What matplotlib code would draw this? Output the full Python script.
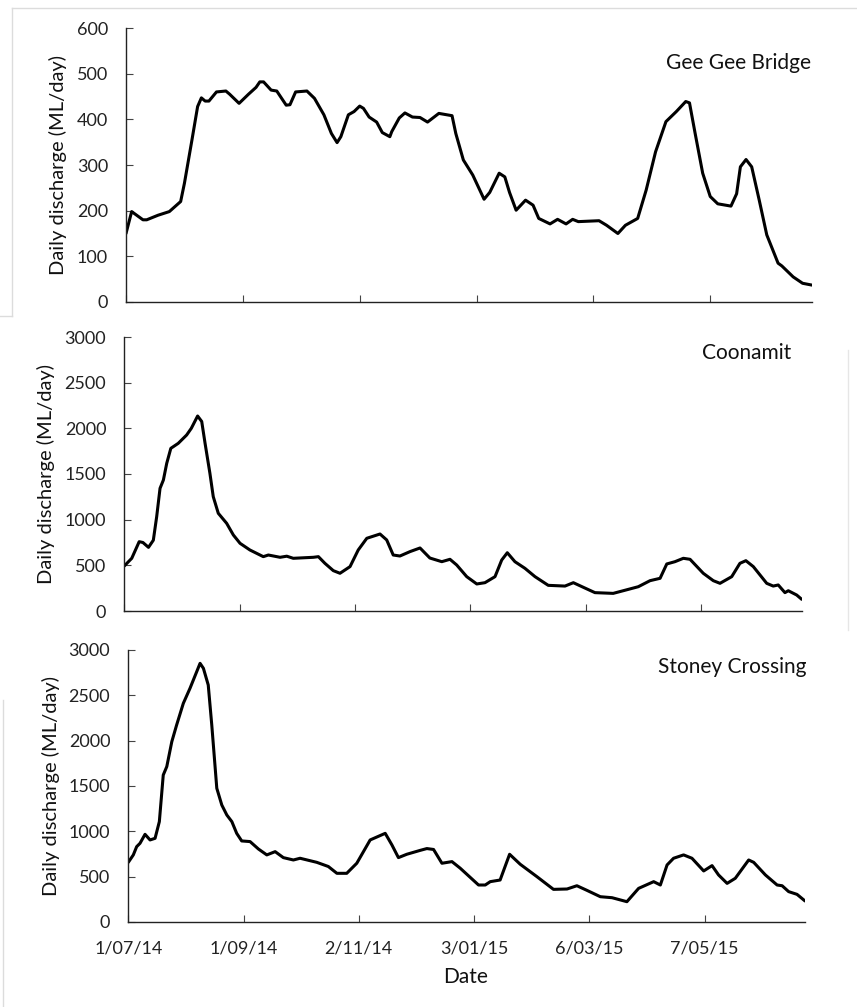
import numpy as np
import pandas as pd
import matplotlib
matplotlib.use("Agg")
import matplotlib.pyplot as plt
from matplotlib.lines import Line2D

plt.rcParams['font.family'] = ['Lato', 'DejaVu Sans']

start = pd.Timestamp("2014-07-01")
end = pd.Timestamp("2015-06-30")

# Gee Gee Bridge (day offset from 1/07/14, ML/day)
gee_days = [0, 3, 9, 11, 17, 23, 29, 31, 35, 38, 40, 42, 44, 48, 53, 55, 60, 65, 69, 71,
            73, 77, 80, 85, 87, 90, 96, 100, 105, 109, 112, 114, 118, 121, 124, 126, 129,
            133, 136, 140, 141, 145, 148, 152, 156, 160, 166, 173, 175, 179, 184, 190, 193,
            198, 201, 203.5, 207, 212, 216, 219, 225, 229, 233.5, 237, 240, 251, 255, 261,
            265, 271.5, 276, 281, 286.5, 292, 297, 299, 302, 306, 310, 314, 321, 324, 326,
            329, 332, 336, 340, 346, 348, 354, 359, 364]
gee_vals = [150, 198, 180, 180, 190, 198, 220, 260, 355, 428, 447, 440, 440, 460, 462, 455,
            435, 455, 470, 482, 482, 464, 462, 431, 432, 460, 462, 446, 410, 369, 349, 362,
            410, 417, 429, 424, 405, 394, 371, 362, 373, 403, 414, 405, 404, 394, 413, 408,
            369, 311, 278, 225, 240, 282, 274, 240, 201, 223, 212, 183, 171, 181, 171, 181,
            176, 178, 168, 150, 168, 183, 245, 329, 395, 417, 439, 436, 369, 282, 231, 215,
            210, 237, 296, 312, 296, 223, 147, 85, 79, 55, 41, 37]

# Coonamit
coo_days = [0, 4, 8, 10, 13, 15.6, 17.4, 19.2, 21, 22.8, 25, 29, 33.5, 36, 39.4, 41.6, 43.4,
            46, 47.8, 50.5, 55, 58.6, 62.2, 67.5, 74.7, 77.4, 83.7, 87.3, 90.8, 101.6, 104.3,
            107.8, 112.3, 115.9, 121.3, 125.7, 130.3, 137.4, 141, 144.5, 148.1, 153.5, 158.9,
            164.2, 170.6, 175, 178.6, 184, 189.4, 193.8, 199.2, 202.8, 205.8, 209.9, 215.3,
            220.7, 227.8, 236.8, 241.3, 246.7, 252.9, 262.7, 268.1, 276.2, 282.5, 287.9,
            291.5, 295.9, 300.4, 304, 311.1, 316.5, 320.1, 326.4, 330.8, 334, 338, 345.2,
            348.7, 351.4, 355, 356.8, 361.3, 364]
coo_vals = [493, 577, 759, 750, 697, 775, 1033, 1343, 1434, 1617, 1781, 1836, 1927, 2000,
            2135, 2075, 1836, 1508, 1252, 1070, 960, 832, 741, 668, 595, 613, 588, 600, 577,
            588, 595, 522, 442, 413, 486, 668, 796, 843, 778, 613, 602, 650, 690, 580, 540,
            566, 504, 376, 296, 310, 376, 558, 638, 540, 467, 376, 281, 273, 310, 259, 201,
            193, 222, 266, 332, 358, 515, 540, 577, 566, 413, 332, 303, 376, 522, 551, 486,
            303, 273, 285, 201, 222, 175, 128]

# Stoney Crossing
sto_days = [0, 2.7, 4.5, 6.3, 9, 11.7, 14.4, 16.7, 18.8, 20.7, 23.4, 26, 29.6, 33.2, 36.8,
            38.6, 40.4, 43, 44.9, 47.6, 50.3, 53, 55.7, 58.3, 61, 65.5, 70, 74.5, 79, 83.4,
            88.8, 92.4, 101.4, 107.6, 112.2, 117.5, 122.9, 130.1, 138.2, 141.8, 145.3, 149.8,
            157, 160.6, 164.2, 168.7, 174.1, 178.5, 188.4, 192, 194.7, 200, 205.1, 210.8,
            219.8, 228.7, 236, 241.3, 246.7, 253.9, 260.2, 268.2, 274.5, 282.6, 286.2, 289.8,
            293.3, 298.7, 303.2, 309.5, 314, 317.5, 322.1, 326.5, 333.7, 336.4, 342.7, 349,
            351.7, 355.2, 359.7, 364]
sto_vals = [658, 740, 831, 868, 967, 905, 923, 1107, 1621, 1714, 1989, 2173, 2412, 2578,
            2761, 2853, 2798, 2614, 2173, 1475, 1290, 1180, 1107, 978, 894, 887, 805, 740,
            776, 710, 684, 703, 658, 612, 537, 537, 648, 905, 978, 850, 710, 747, 790, 810,
            800, 648, 666, 594, 408, 408, 445, 463, 747, 637, 500, 360, 364, 400, 349, 279,
            268, 224, 371, 445, 408, 629, 703, 740, 703, 563, 622, 519, 426, 482, 684, 658,
            519, 408, 400, 335, 305, 232]

tick_dates = ["2014-07-01", "2014-09-01", "2014-11-02", "2015-01-03", "2015-03-06", "2015-05-07"]
tick_labels = ["1/07/14", "1/09/14", "2/11/14", "3/01/15", "6/03/15", "7/05/15"]

sites = ["Gee Gee Bridge", "Coonamit", "Stoney Crossing"]
y_max = [600, 3000, 3000]
y_step = [100, 500, 500]

W, H = 857, 1007
fig = plt.figure(figsize=(W / 100, H / 100), dpi=100)

# faint frame remnants of pasted panels
def px_line(x0, y0, x1, y1, c="#dcdcdc", lw=1.0):
    fig.add_artist(Line2D([x0 / W, x1 / W], [1 - y0 / H, 1 - y1 / H],
                          transform=fig.transFigure, color=c, lw=lw))

px_line(12, 8, 857, 8)
px_line(12, 8, 12, 316)
px_line(0, 316, 12, 316)
px_line(3, 700, 3, 1007)
px_line(848, 350, 848, 630, c="#e6e6e6")

# axes boxes in pixels: left, top, right, bottom
boxes = [(126, 28, 812, 302), (124.3, 337, 801.7, 611), (128.3, 650, 805, 922)]
ylab_x = [67, 55, 60]
title_pos = [(811, 63), (791, 353), (807, 667)]

series = [(gee_days, gee_vals), (coo_days, coo_vals), (sto_days, sto_vals)]

for i, (d, v) in enumerate(series):
    l, t, r, b = boxes[i]
    ax = fig.add_axes([l / W, 1 - b / H, (r - l) / W, (b - t) / H])
    ax.patch.set_alpha(0)
    dates = start + pd.to_timedelta(np.array(d, dtype=float), unit="D")
    ax.plot(dates, v, color="black", lw=2.2, solid_joinstyle="round", solid_capstyle="round")
    ax.set_xlim(start, end)
    ax.set_ylim(0, y_max[i])
    ax.set_yticks(np.arange(0, y_max[i] + 1, y_step[i]))
    ax.set_xticks(pd.to_datetime(tick_dates))
    if i == 2:
        ax.set_xticklabels(tick_labels)
    else:
        ax.set_xticklabels([])
    for s in ["top", "right"]:
        ax.spines[s].set_visible(False)
    for s in ["left", "bottom"]:
        ax.spines[s].set_color("#222222")
        ax.spines[s].set_linewidth(1.0)
    ax.tick_params(axis="both", direction="in", length=5, width=0.8, color="#444444",
                   labelsize=13, labelcolor="#222222")
    ax.tick_params(axis="y", pad=13)
    ax.tick_params(axis="x", pad=13)
    ax.set_ylabel("Daily discharge (ML/day)", fontsize=14.5, color="#111111")
    ax.yaxis.set_label_coords((ylab_x[i] - l) / (r - l), 0.5)
    tx, ty = title_pos[i]
    fig.text(tx / W, 1 - ty / H, sites[i], ha="right", va="center", fontsize=15, color="#111111")

fig.text(466 / W, 1 - 977 / H, "Date", ha="center", va="center", fontsize=15, color="#111111")

fig.savefig("out.png", dpi=100, facecolor="white")
